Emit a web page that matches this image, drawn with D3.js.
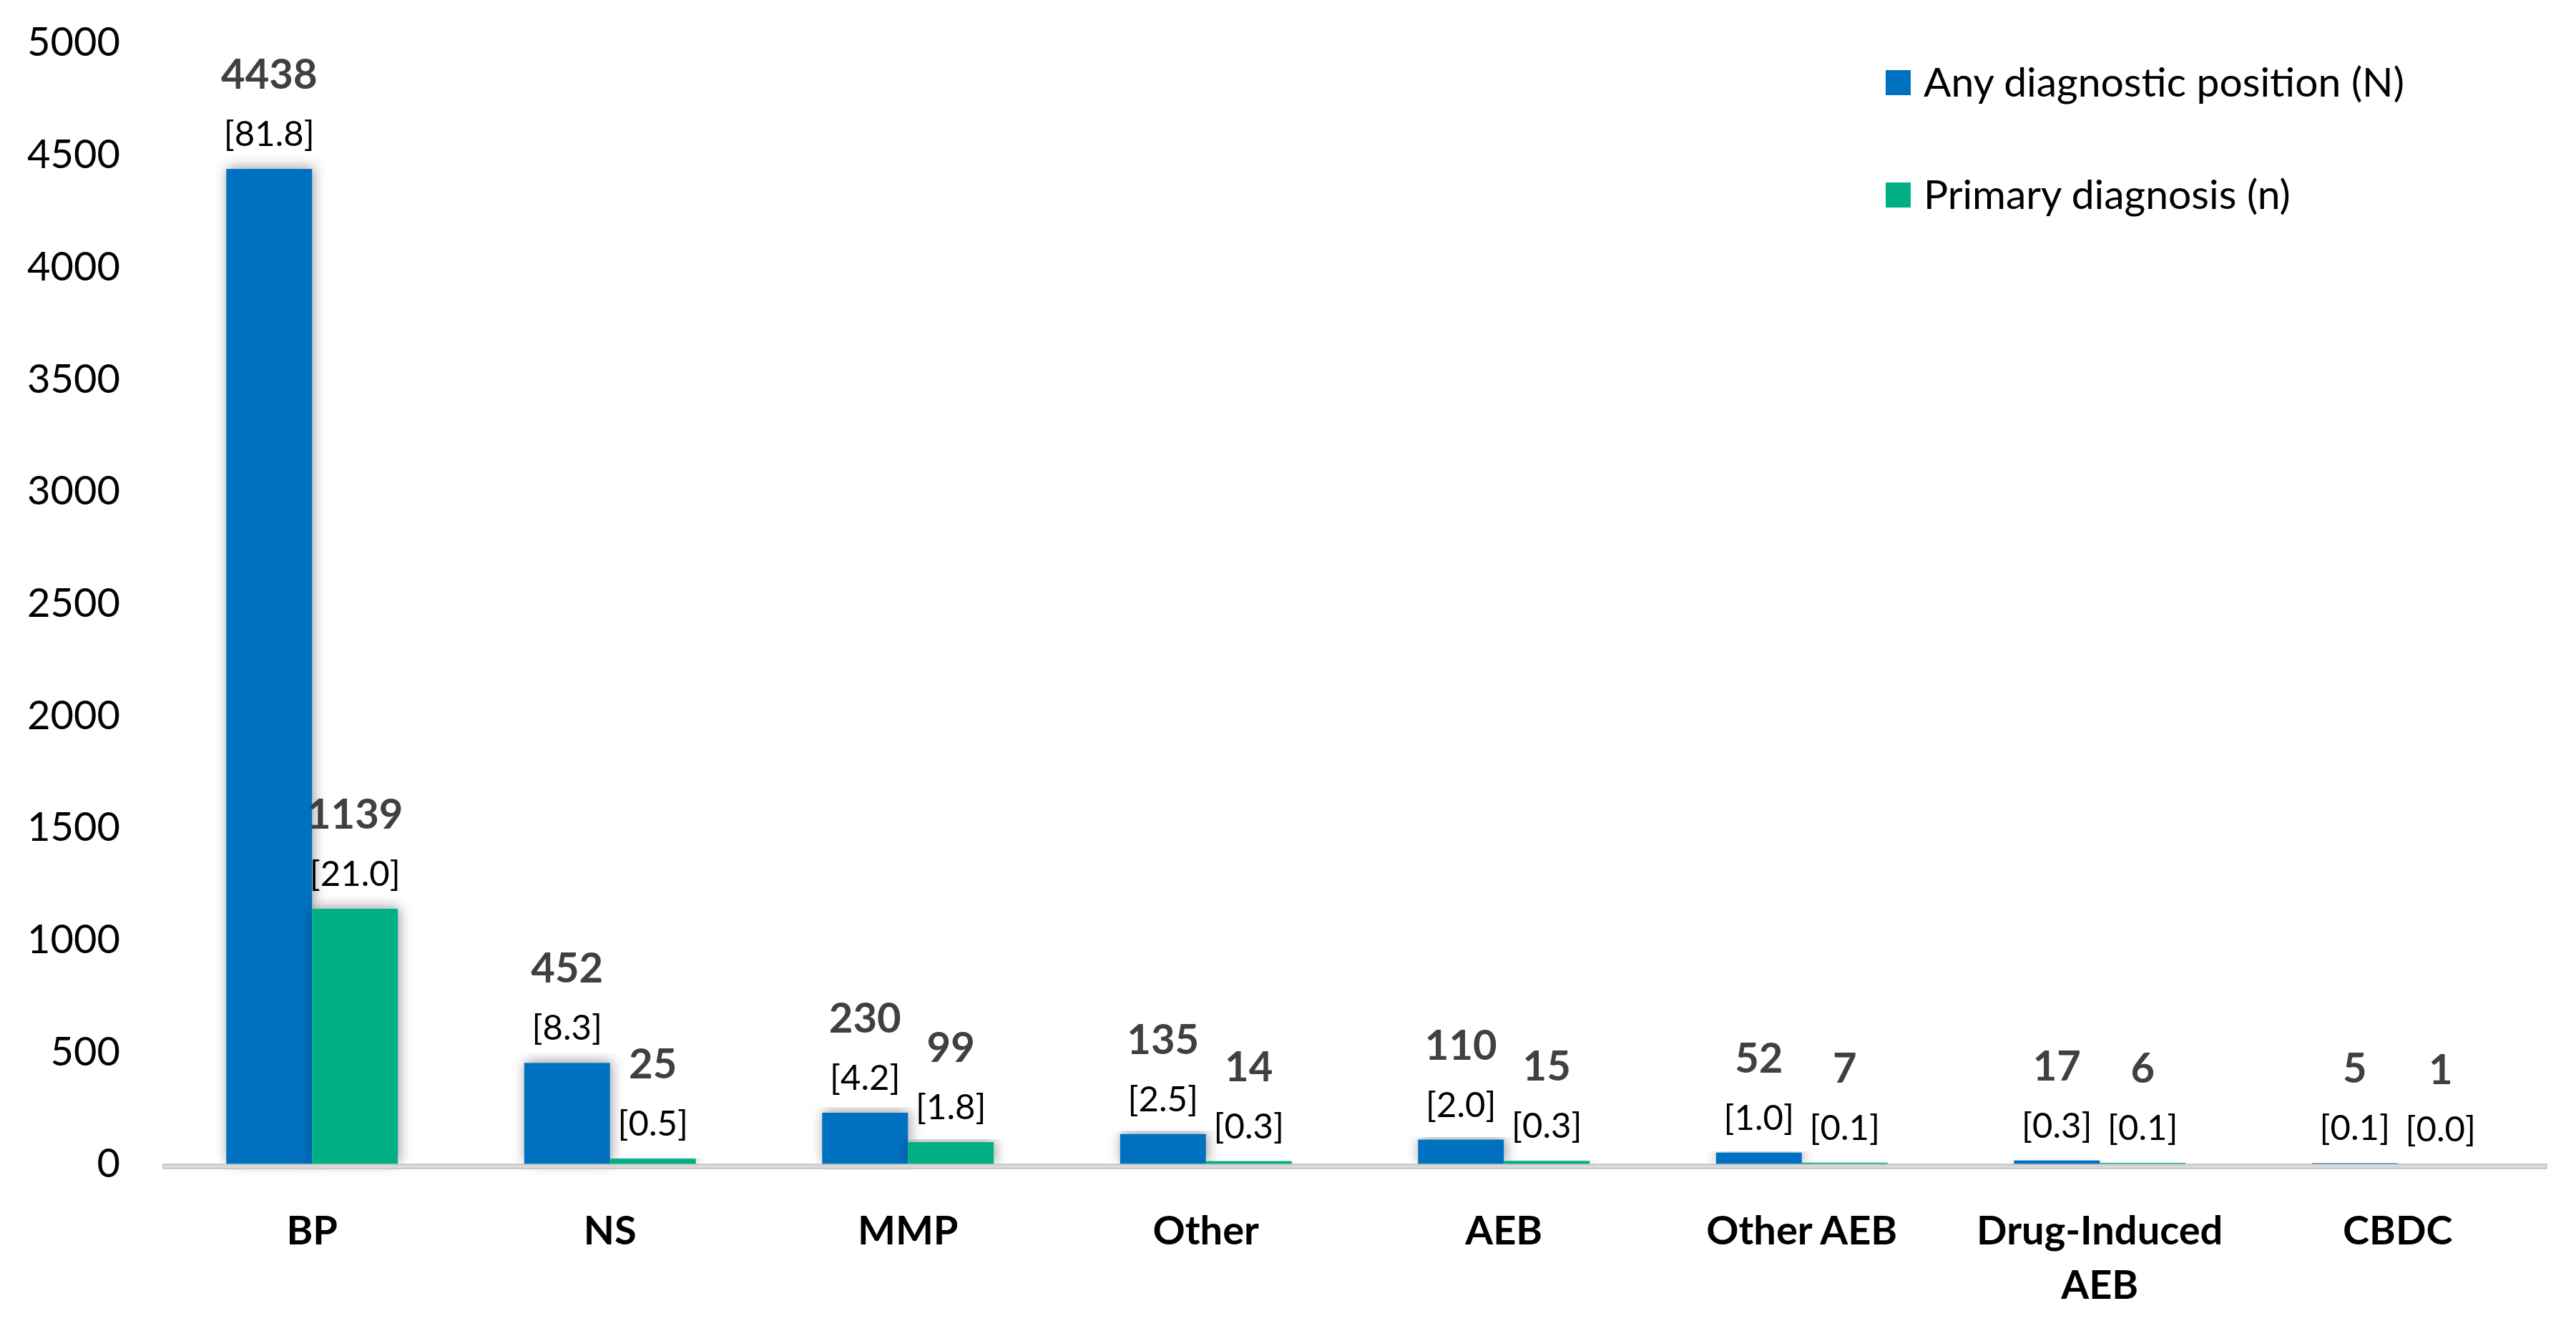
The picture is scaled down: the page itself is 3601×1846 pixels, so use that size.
<!DOCTYPE html>
<html>
<head>
<meta charset="utf-8">
<script src="https://cdn.jsdelivr.net/npm/d3@7"></script>
<style>
  body { margin: 0; background: #fff; }
  svg { display: block; }
</style>
</head>
<body>
<div id="chart"></div>
<script>
const width = 3601;
const height = 1846;
const margin = { top: 60, right: 41, bottom: 219, left: 228 };

const categories = ["BP", "NS", "MMP", "Other", "AEB", "Other AEB", "Drug-Induced AEB", "CBDC"];
const anyCounts = [4438, 452, 230, 135, 110, 52, 17, 5];
const anyPercents = ["81.8", "8.3", "4.2", "2.5", "2.0", "1.0", "0.3", "0.1"];
const primaryCounts = [1139, 25, 99, 14, 15, 7, 6, 1];
const primaryPercents = ["21.0", "0.5", "1.8", "0.3", "0.3", "0.1", "0.1", "0.0"];
const seriesNames = ["Any diagnostic position (N)", "Primary diagnosis (n)"];
const yTicks = [0, 500, 1000, 1500, 2000, 2500, 3000, 3500, 4000, 4500, 5000];

const colors = ["#0070C0", "#00B084"];
const font = "Lato, 'Liberation Sans', sans-serif";

const series = [
    { key: 0, counts: anyCounts, pcts: anyPercents },
    { key: 1, counts: primaryCounts, pcts: primaryPercents }
];

const svg = d3.select("#chart")
    .append("svg")
    .attr("width", width)
    .attr("height", height)
    .style("background", "#fff");

// soft shadow like the office chart
const defs = svg.append("defs");
defs.append("filter")
    .attr("id", "shadow")
    .attr("x", "-30%").attr("y", "-10%")
    .attr("width", "160%").attr("height", "120%")
    .append("feDropShadow")
    .attr("dx", 2).attr("dy", -2)
    .attr("stdDeviation", 9)
    .attr("flood-color", "#000")
    .attr("flood-opacity", 0.4);

const x0 = d3.scaleBand()
    .domain(categories)
    .range([margin.left, width - margin.right])
    .paddingInner(0.424)
    .paddingOuter(0.212);

const x1 = d3.scaleBand()
    .domain([0, 1])
    .range([0, x0.bandwidth()]);

const y = d3.scaleLinear()
    .domain([0, 5000])
    .range([height - margin.bottom, margin.top]);

// y axis labels only
const yAxis = svg.append("g")
    .attr("transform", "translate(" + (margin.left - 60) + ",0)")
    .call(d3.axisLeft(y).tickValues(yTicks).tickFormat(d3.format("d")).tickSize(0).tickPadding(0));
yAxis.select(".domain").remove();
yAxis.selectAll("text")
    .style("font-family", font)
    .style("font-size", "56px")
    .attr("fill", "#000");

// bars
const groups = svg.append("g")
    .selectAll("g")
    .data(categories)
    .join("g")
    .attr("transform", d => "translate(" + x0(d) + ",0)");

groups.selectAll("rect")
    .data((d, i) => series.map(s => ({ key: s.key, value: s.counts[i] })))
    .join("rect")
    .attr("x", d => x1(d.key))
    .attr("y", d => y(d.value))
    .attr("width", x1.bandwidth())
    .attr("height", d => y(0) - y(d.value))
    .attr("fill", d => colors[d.key])
    .attr("filter", "url(#shadow)");

// baseline
svg.append("rect")
    .attr("x", margin.left)
    .attr("y", y(0))
    .attr("width", width - margin.right - margin.left)
    .attr("height", 6)
    .attr("fill", "#d9d9d9")
    .attr("stroke", "#bfbfbf")
    .attr("stroke-width", 1.5);

// data labels
const labels = groups.selectAll("g.lbl")
    .data((d, i) => series.map(s => ({ key: s.key, value: s.counts[i], pct: s.pcts[i] })))
    .join("g")
    .attr("class", "lbl")
    .attr("transform", d => "translate(" + (x1(d.key) + x1.bandwidth() / 2) + "," + y(d.value) + ")");

labels.append("text")
    .attr("y", -112)
    .attr("text-anchor", "middle")
    .style("font-family", font)
    .style("font-size", "58px")
    .style("font-weight", "bold")
    .attr("fill", "#404040")
    .text(d => d.value);

labels.append("text")
    .attr("y", -32)
    .attr("text-anchor", "middle")
    .style("font-family", font)
    .style("font-size", "49px")
    .attr("fill", "#000")
    .text(d => "[" + d.pct + "]");

// category labels, wrapped when too wide
const catLabels = svg.append("g")
    .selectAll("text")
    .data(categories)
    .join("text")
    .attr("x", d => x0(d) + x0.bandwidth() / 2)
    .attr("y", height - margin.bottom + 112)
    .attr("text-anchor", "middle")
    .style("font-family", font)
    .style("font-size", "56px")
    .style("font-weight", "bold")
    .attr("fill", "#000")
    .text(d => d);

catLabels.each(function (d) {
    const t = d3.select(this);
    if (this.getComputedTextLength() > x0.step() - 20) {
        const words = d.split(" ");
        const last = words.pop();
        const cx = t.attr("x");
        t.text(null);
        t.append("tspan").attr("x", cx).attr("dy", 0).text(words.join(" "));
        t.append("tspan").attr("x", cx).attr("dy", 76).text(last);
    }
});

// legend
const legend = svg.append("g")
    .selectAll("g")
    .data(seriesNames)
    .join("g")
    .attr("transform", (d, i) => "translate(2636," + (115 + i * 157) + ")");

legend.append("rect")
    .attr("x", 0)
    .attr("y", -17)
    .attr("width", 35)
    .attr("height", 35)
    .attr("fill", (d, i) => colors[i]);

legend.append("text")
    .attr("x", 53)
    .attr("y", 20)
    .style("font-family", font)
    .style("font-size", "57px")
    .attr("fill", "#000")
    .text(d => d);
</script>
</body>
</html>
